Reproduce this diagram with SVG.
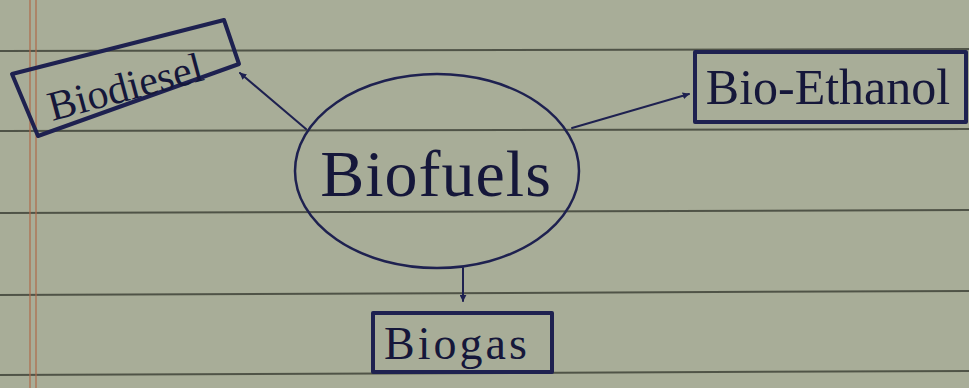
<svg xmlns="http://www.w3.org/2000/svg" width="969" height="388" viewBox="0 0 969 388">
<style>
.ink{fill:none;stroke:#1e2150;stroke-linecap:round;stroke-linejoin:round}
.box{stroke-width:4}
.con{stroke-width:2}
.lbl{font-family:"Liberation Serif","DejaVu Serif",serif;fill:#15173a}
.rule{stroke:#3a3d33;stroke-width:2;opacity:0.8}
.margin{stroke:#b06a4a;stroke-width:1.5;opacity:0.8}
</style>
<defs>
<marker id="ah" viewBox="0 0 10 10" refX="9" refY="5" markerWidth="7" markerHeight="7" orient="auto" markerUnits="userSpaceOnUse">
<path d="M0,0 L10,5 L0,10 Z" fill="#1e2150"/>
</marker>
</defs>
<rect width="969" height="388" fill="#a8ad98"/>
<g id="paper">
<line class="rule" x1="0" y1="51" x2="969" y2="49"/>
<line class="rule" x1="0" y1="131" x2="969" y2="129"/>
<line class="rule" x1="0" y1="213" x2="969" y2="210"/>
<line class="rule" x1="0" y1="295" x2="969" y2="291"/>
<line class="rule" x1="0" y1="375" x2="969" y2="371"/>
<line class="margin" x1="30" y1="0" x2="30" y2="388"/>
<line class="margin" x1="36" y1="0" x2="36" y2="388"/>
</g>
<g id="connectors">
<line class="ink con" x1="306" y1="129" x2="240" y2="73" marker-end="url(#ah)"/>
<line class="ink con" x1="572" y1="128" x2="689" y2="94" marker-end="url(#ah)"/>
<line class="ink con" x1="463" y1="268" x2="463" y2="301" marker-end="url(#ah)"/>
</g>
<g id="biofuels">
<ellipse class="ink" cx="437" cy="171" rx="142" ry="97" stroke-width="2.5"/>
<text class="lbl" x="436" y="196" font-size="66" letter-spacing="1" text-anchor="middle">Biofuels</text>
</g>
<g id="biodiesel">
<polygon class="ink box" points="12,74 224,20 239,64 38,136"/>
<text class="lbl" x="124" y="101" font-size="42" text-anchor="middle" transform="rotate(-15 124 82)">Biodiesel</text>
</g>
<g id="bioethanol">
<rect class="ink box" x="695" y="52" width="271" height="70"/>
<text class="lbl" x="828" y="104" font-size="50" text-anchor="middle">Bio-Ethanol</text>
</g>
<g id="biogas">
<rect class="ink box" x="373" y="313" width="179" height="59"/>
<text class="lbl" x="457" y="359" font-size="46" letter-spacing="3" text-anchor="middle">Biogas</text>
</g>
</svg>
